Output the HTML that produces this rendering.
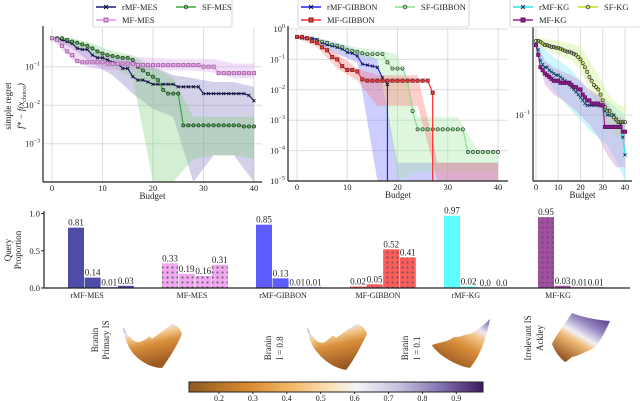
<!DOCTYPE html>
<html><head><meta charset="utf-8"><style>
body{margin:0;background:#fff}
svg{display:block;font-family:"Liberation Serif",serif}
</style></head><body>
<svg id="fig" width="640" height="401" viewBox="0 0 640 401" xmlns="http://www.w3.org/2000/svg">
<defs>
<pattern id="dots" width="5" height="5" patternUnits="userSpaceOnUse"><circle cx="2.5" cy="2.5" r="1.1" fill="#555" fill-opacity="0.8"/></pattern>
<linearGradient id="cmap" x1="0" x2="1" y1="0" y2="0">
<stop offset="0" stop-color="#8f5a22"/><stop offset="0.2" stop-color="#d9892e"/><stop offset="0.35" stop-color="#f4b868"/><stop offset="0.5" stop-color="#fbe6c6"/><stop offset="0.57" stop-color="#f4f4f6"/><stop offset="0.72" stop-color="#c4bedd"/><stop offset="0.86" stop-color="#8170b0"/><stop offset="1" stop-color="#3d1a5e"/>
</linearGradient>
<linearGradient id="surfB" x1="0" y1="0" x2="0.3" y2="1">
<stop offset="0" stop-color="#7a66aa"/><stop offset="0.22" stop-color="#e8e4f2"/><stop offset="0.35" stop-color="#f3c98e"/><stop offset="0.55" stop-color="#d98f3c"/><stop offset="1" stop-color="#9a5a20"/>
</linearGradient>
<linearGradient id="surfB2" x1="1" y1="0" x2="0.4" y2="1">
<stop offset="0" stop-color="#6a55a0"/><stop offset="0.25" stop-color="#ece8f4"/><stop offset="0.38" stop-color="#f1c487"/><stop offset="0.6" stop-color="#d98f3c"/><stop offset="1" stop-color="#9a5a20"/>
</linearGradient>
<linearGradient id="surfA" x1="0.9" y1="0" x2="0.2" y2="1">
<stop offset="0" stop-color="#4a2a7a"/><stop offset="0.3" stop-color="#9a8cc4"/><stop offset="0.5" stop-color="#f2f0f6"/><stop offset="0.62" stop-color="#f0bc78"/><stop offset="1" stop-color="#8a4a18"/>
</linearGradient>
</defs>
<g id="charts"></g>
</svg>
<script>
// ---------- DATA ----------
const budgets = Array.from({length:41},(_, i)=>i);
const bandBudgets = [0,4,8,12,16,20,24,28,32,36,40];
// Chart 1 (MES)
const mesR = [0.55,0.55,0.5,0.45,0.4,0.3,0.28,0.28,0.2,0.17, 0.17,0.15,0.13,0.12,0.09,0.09,0.055,0.045,0.045,0.04, 0.035,0.035,0.035,0.035,0.035,0.03,0.03,0.03,0.03,0.03, 0.02,0.02,0.02,0.02,0.02,0.02,0.02,0.02,0.02,0.018, 0.013];
const mesS = [0.55,0.55,0.55,0.5,0.45,0.42,0.38,0.35,0.3,0.25, 0.22,0.2,0.19,0.18,0.17,0.17,0.15,0.1,0.08,0.065, 0.055,0.045,0.025,0.02,0.02,0.02,0.003,0.003,0.003,0.003, 0.003,0.003,0.003,0.003,0.003,0.003,0.003,0.003,0.0028,0.0028, 0.0028];
const mesM = [0.55,0.5,0.35,0.25,0.2,0.14,0.13,0.13,0.13,0.13, 0.13,0.12,0.12,0.12,0.12,0.12,0.12,0.11,0.11,0.11, 0.11,0.11,0.11,0.11,0.11,0.11,0.11,0.11,0.11,0.11, 0.1,0.1,0.1,0.068,0.068,0.068,0.068,0.068,0.068,0.068, 0.068];
const mesRUp = [0.6,0.5,0.3,0.2,0.15,0.1,0.06,0.05,0.04,0.04,0.03];
const mesRLo = [0.5,0.3,0.12,0.06,0.02,0.008,0.005,0.0001,0.0005,0.0005,0.0001];
const mesSUp = [0.6,0.55,0.4,0.25,0.2,0.1,0.05,0.005,0.005,0.005,0.005];
const mesSLo = [0.5,0.35,0.2,0.1,0.05,0.0001,0.0001,0.0004,0.0005,0.0005,0.0004];
const mesMUp = [0.6,0.4,0.2,0.18,0.18,0.17,0.16,0.16,0.16,0.12,0.12];
const mesMLo = [0.5,0.15,0.09,0.08,0.08,0.08,0.08,0.08,0.07,0.05,0.05];
// Chart 2 (GIBBON)
const gibRX = [0,1,2,3,4,5,6,7,8,9,10,11,12,13,14,15,16,17,18,18];
const gibR = [0.55,0.5,0.5,0.5,0.45,0.35,0.3,0.28,0.25,0.22,0.17,0.16,0.13,0.07,0.065,0.06,0.055,0.025,0.015,1e-7];
const gibMX = [0,1,2,3,4,5,6,7,8,9,10,11,12,13,14,15,16,17,18,19,20,21,22,23,24,25,26,27,27];
const gibM = [0.55,0.55,0.5,0.4,0.35,0.25,0.2,0.12,0.1,0.06,0.045,0.045,0.04,0.022,0.02,0.02,0.02,0.02,0.02,0.02,0.02,0.02,0.02,0.02,0.02,0.02,0.02,0.008,1e-7];
const gibS = [0.55,0.55,0.5,0.45,0.4,0.38,0.35,0.3,0.28,0.25, 0.2,0.19,0.18,0.16,0.15,0.15,0.15,0.15,0.08,0.05, 0.05,0.05,0.02,0.002,0.0005,0.0005,0.0005,0.0005,0.0005,0.0005, 0.0005,0.0005,0.0005,0.0005,0.00009,0.00009,0.00009,0.00009,0.00009,0.00009, 0.00009];
const gibRUp = [0.6,0.5,0.35,0.2,0.1,4e-5,4e-5,4e-5,4e-5,4e-5,4e-5];
const gibRLo = [0.5,0.35,0.15,0.08,1e-7,1e-7,1e-7,1e-7,1e-7,1e-7,1e-7];
const gibMUp = [0.6,0.4,0.15,0.05,0.03,0.03,0.03,4e-5,4e-5,4e-5,4e-5];
const gibMLo = [0.5,0.25,0.05,0.02,0.003,0.003,0.003,1e-7,1e-7,1e-7,1e-7];
const gibSUp = [0.6,0.5,0.35,0.25,0.2,0.15,0.0013,0.0013,0.0013,0.0001,0.0001];
const gibSLo = [0.5,0.35,0.2,0.12,0.1,1e-7,2e-5,2e-5,2e-5,2e-5,2e-5];
// Chart 3 (KG)
const kgR = [0.5,0.45,0.35,0.32,0.3,0.3,0.28,0.27,0.26,0.25, 0.25,0.24,0.23,0.22,0.21,0.2,0.19,0.18,0.17,0.16, 0.15,0.14,0.13,0.125,0.125,0.125,0.125,0.125,0.125,0.125, 0.125,0.11,0.1,0.1,0.1,0.1,0.09,0.085,0.08,0.06, 0.04];
const kgM = [0.5,0.4,0.3,0.28,0.26,0.25,0.24,0.23,0.22,0.22, 0.22,0.21,0.21,0.21,0.21,0.21,0.2,0.19,0.19,0.18, 0.18,0.16,0.15,0.14,0.14,0.13,0.13,0.13,0.13,0.125, 0.125,0.076,0.076,0.076,0.076,0.076,0.076,0.076,0.076,0.068, 0.068];
const kgS = [0.55,0.55,0.54,0.52,0.5,0.5,0.49,0.48,0.48,0.47, 0.47,0.46,0.45,0.44,0.43,0.43,0.42,0.41,0.4,0.38, 0.36,0.33,0.3,0.27,0.24,0.22,0.2,0.19,0.18,0.16, 0.14,0.12,0.11,0.11,0.1,0.095,0.09,0.085,0.085,0.085, 0.085];
const kgRUp = [0.55,0.45,0.38,0.33,0.28,0.22,0.17,0.15,0.14,0.12,0.1];
const kgRLo = [0.45,0.25,0.18,0.14,0.11,0.09,0.07,0.06,0.05,0.035,0.02];
const kgMUp = [0.55,0.35,0.3,0.27,0.25,0.22,0.18,0.16,0.13,0.1,0.09];
const kgMLo = [0.45,0.2,0.16,0.14,0.12,0.1,0.08,0.06,0.04,0.03,0.03];
const kgSUp = [0.6,0.58,0.56,0.54,0.52,0.48,0.35,0.25,0.17,0.13,0.12];
const kgSLo = [0.5,0.45,0.42,0.38,0.35,0.28,0.18,0.12,0.08,0.06,0.06];
// Bar chart
const barGroups = ["rMF-MES","MF-MES","rMF-GIBBON","MF-GIBBON","rMF-KG","MF-KG"];
const barValues = [[0.81,0.14,0.01,0.03],[0.33,0.19,0.16,0.31],[0.85,0.13,0.01,0.01],[0.02,0.05,0.52,0.41],[0.97,0.02,0.0,0.0],[0.95,0.03,0.01,0.01]];
const barLabels = [["0.81","0.14","0.01","0.03"],["0.33","0.19","0.16","0.31"],["0.85","0.13","0.01","0.01"],["0.02","0.05","0.52","0.41"],["0.97","0.02","0.0","0.0"],["0.95","0.03","0.01","0.01"]];
const barTicks = [0.0,0.5,1.0];
const cbarTicks = [0.2,0.3,0.4,0.5,0.6,0.7,0.8,0.9];

// ---------- DRAW ----------
const NS="http://www.w3.org/2000/svg";
const root=document.getElementById('charts');
function mk(tag,attrs,parent){const e=document.createElementNS(NS,tag);for(const k in attrs)e.setAttribute(k,attrs[k]);(parent||root).appendChild(e);return e;}
function txt(s,x,y,size,anchor,parent,rot){const t=mk('text',{x:x,y:y,'font-size':size,'text-anchor':anchor||'middle',fill:'#222'},parent);if(rot)t.setAttribute('transform','rotate(-90 '+x+' '+y+')');t.textContent=s;return t;}
const clamp=(v,a,b)=>Math.max(a,Math.min(b,v));

function makeAxes(cfg){
  const g=mk('g',{});
  
  
  const xs=b=>cfg.x0+b*cfg.xk;
  const ys=v=>clamp(cfg.y1-cfg.yk*(Math.log10(Math.max(v,1e-12))-cfg.d1),cfg.top,cfg.bot);
  for(const b of [0,10,20,30,40]){mk('line',{x1:xs(b),x2:xs(b),y1:cfg.top,y2:cfg.bot,stroke:'#ddd','stroke-width':1},g);}
  for(const d of cfg.decades){const y=ys(Math.pow(10,d));mk('line',{x1:cfg.left,x2:cfg.right,y1:y,y2:y,stroke:'#ddd','stroke-width':1},g);
    const lbl=mk('text',{x:cfg.left-3,y:y+3,'font-size':8.5,'text-anchor':'end',fill:'#222'},g);lbl.textContent='10';
    const sup=mk('tspan',{dy:-4,'font-size':6},lbl);sup.textContent=(d<0?'\u2212'+(-d):String(d));}
  for(const s of cfg.series){if(!s.up)continue;
    let pts=bandBudgets.map((b,i)=>xs(b)+','+ys(s.up[i]));
    pts=pts.concat(bandBudgets.map((b,i)=>xs(b)+','+ys(s.lo[i])).reverse());
    const p=mk('polygon',{points:pts.join(' '),fill:s.band,'fill-opacity':0.35},g);
    
    }
  for(const s of cfg.series){
    const bx=s.x||budgets;
    let d='';bx.forEach((b,i)=>{d+=(i?'L':'M')+xs(b)+' '+ys(s.v[i]);});
    const ln=mk('path',{d:d,fill:'none',stroke:s.color,'stroke-width':1.2},g);
    
    
    bx.forEach((b,i)=>{if(s.v[i]<1e-6)return;const x=xs(b),y=ys(s.v[i]);
      if(s.m==='x'){mk('path',{d:`M${x-1.5} ${y-1.5}L${x+1.5} ${y+1.5}M${x-1.5} ${y+1.5}L${x+1.5} ${y-1.5}`,stroke:s.mc||s.color,'stroke-width':0.8},g);}
      else if(s.m==='s'){mk('rect',{x:x-1.6,y:y-1.6,width:3.2,height:3.2,fill:s.mf||'none',stroke:s.mc||s.color,'stroke-width':0.8},g);}
      else{mk('circle',{cx:x,cy:y,r:1.6,fill:s.mf||'none',stroke:s.mc||'#223',"stroke-width":0.7},g);}});
  }
  mk('line',{x1:cfg.left,x2:cfg.left,y1:cfg.top-2,y2:cfg.bot,stroke:'#222','stroke-width':1.2},g);
  mk('line',{x1:cfg.left,x2:cfg.right,y1:cfg.bot,y2:cfg.bot,stroke:'#222','stroke-width':1.2},g);
  for(const b of [0,10,20,30,40]){txt(String(b),xs(b),cfg.bot+9,8.5,'middle',g);}
  const xl=txt('Budget',(cfg.left+cfg.right)/2,cfg.bot+17,9,'middle',g);
  
  
  const lg=mk('g',{},g);
  
  
  mk('rect',{x:cfg.lx,y:-2,width:cfg.lw,height:29,rx:2,fill:'#fff',stroke:'#ccc','stroke-width':0.8},lg);
  cfg.series.forEach((s,i)=>{const pos=cfg.lpos[i];
    const e=mk('g',{},lg);
    
    
    mk('line',{x1:pos[0],x2:pos[0]+20,y1:pos[1],y2:pos[1],stroke:s.color,'stroke-width':1.5},e);
    const cx=pos[0]+10,cy=pos[1];
    if(s.m==='x')mk('path',{d:`M${cx-2} ${cy-2}L${cx+2} ${cy+2}M${cx-2} ${cy+2}L${cx+2} ${cy-2}`,stroke:s.mc||s.color,'stroke-width':1},e);
    else if(s.m==='s')mk('rect',{x:cx-2,y:cy-2,width:4,height:4,fill:s.mf||'none',stroke:s.mc||s.color},e);
    else mk('circle',{cx:cx,cy:cy,r:1.8,fill:'none',stroke:s.mc||'#223','stroke-width':0.8},e);
    txt(s.label,pos[0]+26,pos[1]+3,8.5,'start',e);});
}

makeAxes({name:'mes-regret-chart',x0:52,xk:5.05,y1:66.7,yk:38.5,d1:-1,top:28,bot:182,left:43,right:262,decades:[-1,-2,-3],
 lx:93,lw:139,lpos:[[96,7],[176,7],[96,20]],
 series:[{label:'rMF-MES',v:mesR,color:'#1a1a80',m:'x',mc:'#111',up:mesRUp,lo:mesRLo,band:'#8078c0'},
         {label:'SF-MES',v:mesS,color:'#3aa83a',m:'o',mc:'#1e3a1e',mf:'#6a6',up:mesSUp,lo:mesSLo,band:'#80d080'},
         {label:'MF-MES',v:mesM,color:'#e890e8',m:'s',mc:'#a060a0',mf:'#e8a8e8',up:mesMUp,lo:mesMLo,band:'#d8a0f0'}]});
makeAxes({name:'gibbon-regret-chart',x0:297,xk:5.025,y1:29,yk:30.4,d1:0,top:28,bot:181,left:288,right:508,decades:[0,-1,-2,-3,-4,-5],
 lx:298,lw:171,lpos:[[301,7],[395,7],[301,20]],
 series:[{label:'rMF-GIBBON',x:gibRX,v:gibR,color:'#2020ff',m:'x',mc:'#111',up:gibRUp,lo:gibRLo,band:'#7070ff'},
         {label:'SF-GIBBON',v:gibS,color:'#8ae08a',m:'o',mc:'#2a3a2a',up:gibSUp,lo:gibSLo,band:'#a0e8a0'},
         {label:'MF-GIBBON',x:gibMX,v:gibM,color:'#ff3030',m:'s',mc:'#802020',mf:'#e04040',up:gibMUp,lo:gibMLo,band:'#ff7070'}]});
makeAxes({name:'kg-regret-chart',x0:536,xk:2.225,y1:115,yk:100,d1:-1,top:28,bot:181,left:533,right:632,decades:[-1],
 lx:510,lw:132,lpos:[[513,7],[578,7],[513,20]],
 series:[{label:'rMF-KG',v:kgR,color:'#30e0f0',m:'x',mc:'#135',up:kgRUp,lo:kgRLo,band:'#70e8f8'},
         {label:'SF-KG',v:kgS,color:'#b8e020',m:'o',mc:'#333',up:kgSUp,lo:kgSLo,band:'#c8f080'},
         {label:'MF-KG',v:kgM,color:'#902090',m:'s',mc:'#601060',mf:'#902090',up:kgMUp,lo:kgMLo,band:'#c080d0'}]});
// y-axis title chart1
const yt=txt('simple regret',11,106,9,'middle',root,true);


const yt2=mk('text',{x:24,y:106,'font-size':9,'text-anchor':'middle',fill:'#222','font-style':'italic',transform:'rotate(-90 24 106)'});


yt2.appendChild(document.createTextNode('f* \u2212 f(x'));
const sub=mk('tspan',{dy:2,'font-size':6,'font-style':'normal'},yt2);sub.textContent='choice';
const cl=mk('tspan',{dy:-2},yt2);cl.textContent=')';

// ---------- BAR CHART ----------
const bg=mk('g',{});


const by=v=>288-v*74.5;
const groupColors=['#3a3aa0','#f0a0f0','#4a4aff','#ff4a4a','#4affff','#9a3a9a'];
const dotted=[false,true,false,true,false,true];
barGroups.forEach((name,gi)=>{
  const gx=68+gi*94;
  barValues[gi].forEach((v,bi)=>{
    const x=gx+bi*16.6;
    const r=mk('rect',{x:x,y:by(v),width:16,height:288-by(v),fill:groupColors[gi],'fill-opacity':0.9},bg);
    
    
    if(dotted[gi]&&v>0.04)mk('rect',{x:x,y:by(v),width:16,height:288-by(v),fill:'url(#dots)'},bg);
    txt(barLabels[gi][bi],x+8,by(v)-2,9,'middle',bg);
  });
  const gl=txt(name,[87,192,283,378,466,558][gi],298,8,'middle',bg);
  
  
});
mk('line',{x1:44,x2:44,y1:211,y2:288,stroke:'#222','stroke-width':1.2},bg);
mk('line',{x1:44,x2:630,y1:288,y2:288,stroke:'#222','stroke-width':1.2},bg);
barTicks.forEach(t=>{mk('line',{x1:41,x2:44,y1:by(t),y2:by(t),stroke:'#222'},bg);txt(t.toFixed(1),40,by(t)+3,8.5,'end',bg);});
txt('Query',11,250,9,'middle',bg,true);
txt('Proportion',21,250,9,'middle',bg,true);

// ---------- SURFACES ----------
const sg=mk('g',{});


function surf(pts,grad,name){const p=mk('path',{d:pts,fill:'url(#'+grad+')'},sg);}
surf('M123 327 C130 338 135 345 142 341 C150 338 148 334 152 339 C158 334 165 330 172 324 C176 324 180 328 182 334 C176 348 168 360 162 368 C152 368 140 362 132 352 C127 345 124 336 123 327Z','surfB','surface-branin-primary');
surf('M307 327 C313 338 318 345 325 342 C332 337 332 333 336 338 C343 333 350 328 357 324 C362 325 366 330 367 334 C360 348 354 360 346 370 C335 368 325 362 317 352 C311 345 308 336 307 327Z','surfB','surface-branin-08');
surf('M432 345 C440 342 448 342 454 337 C460 338 464 334 470 334 C478 330 484 325 490 319 C486 340 480 356 470 368 C458 366 448 360 440 354 C436 350 433 348 432 345Z','surfB2','surface-branin-01');
surf('M572 313 C585 318 598 320 610 321 C605 332 600 342 594 348 C585 352 578 356 572 357 C568 360 566 362 565 362 C560 358 555 352 552 344 C556 335 564 325 572 313Z','surfA','surface-ackley');
txt('Branin',98,340,9,'middle',sg,true);txt('Primary IS',109,340,9,'middle',sg,true);
txt('Branin',271,348,9,'middle',sg,true);txt('l = 0.8',283,348,9,'middle',sg,true);
txt('Branin',408,348,9,'middle',sg,true);txt('l = 0.1',420,348,9,'middle',sg,true);
txt('Irrelevant IS',531,338,9,'middle',sg,true);txt('Ackley',543,338,9,'middle',sg,true);

// ---------- COLORBAR ----------
const cg=mk('g',{});


mk('rect',{x:189,y:382,width:294,height:10,fill:'url(#cmap)',stroke:'#222','stroke-width':1},cg);
const cx=v=>219+(v-0.2)*339;
cbarTicks.forEach(t=>{mk('line',{x1:cx(t),x2:cx(t),y1:392,y2:394,stroke:'#222'},cg);txt(t.toFixed(1),cx(t),401,8,'middle',cg);});
</script>
</body></html>
